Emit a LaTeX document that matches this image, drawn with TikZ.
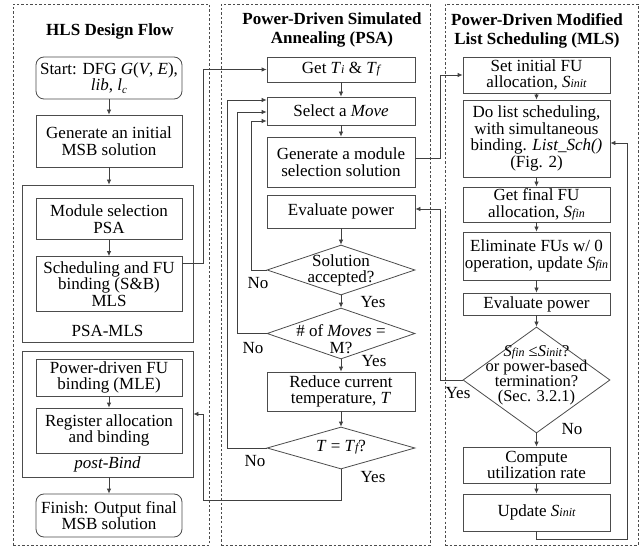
\documentclass[tikz,border=0pt]{standalone}
\usepackage{fontspec}
\setmainfont{Liberation Serif}
\usetikzlibrary{arrows.meta,shapes.geometric}
\newcommand{\subi}[2]{\textit{#1}{\fontsize{12}{12}\selectfont\itshape #2}}
\begin{document}
\begin{tikzpicture}[x=1pt,y=-1pt,
  every node/.style={font=\fontsize{17}{16.8}\selectfont},
  box/.style={draw=black!70, line width=0.8pt, align=center, inner sep=0pt},
  rbox/.style={box, rounded corners=8pt},
  grp/.style={draw=black!70, line width=0.8pt, inner sep=0pt},
  panel/.style={draw=black!70, line width=0.6pt, dash pattern=on 2.5pt off 2pt, inner sep=0pt},
  dia/.style={draw=black!70, line width=0.8pt, shape=diamond, inner sep=0pt},
  dtext/.style={align=center, inner sep=0pt},
  conn/.style={draw=black!75, line width=0.8pt},
  arr/.style={conn, -{Latex[length=5pt,width=4.5pt]}},
  lbl/.style={inner sep=0pt},
  ttl/.style={font=\fontsize{17}{19}\selectfont\bfseries, align=center, inner sep=0pt}
]
\useasboundingbox[fill=white] (0,0) rectangle (643,548);

% panels
\node[panel, minimum width=196pt, minimum height=541pt] (p1) at (111,274.5) {};
\node[panel, minimum width=209pt, minimum height=541pt] (p2) at (325.5,274.5) {};
\node[panel, minimum width=193pt, minimum height=541pt] (p3) at (541.5,274.5) {};

\node[ttl] (t1) at (110,31) {HLS Design Flow};
\node[ttl] (t2) at (332,30) {Power-Driven Simulated\\Annealing (PSA)};
\node[ttl] (t3) at (537,31) {Power-Driven Modified\\List Scheduling (MLS)};

% ---------- panel 1
\node[rbox, minimum width=146pt, minimum height=42pt] (start) at (109,78)
  {Start: DFG \textit{G}(\textit{V}, \textit{E}),\\\textit{lib}, \textit{l}\raisebox{-2.5pt}{\fontsize{11}{11}\selectfont\itshape c}};
\node[box, minimum width=146pt, minimum height=52pt] (gen) at (109,141) {Generate an initial\\MSB solution};
\node[grp, minimum width=171pt, minimum height=157pt] (psamls) at (107.5,263.5) {};
\node[box, minimum width=146pt, minimum height=41pt] (modsel) at (109,219) {Module selection\\PSA};
\node[box, minimum width=146pt, minimum height=55pt] (sched) at (109,284) {Scheduling and FU\\binding (S\&B)\\MLS};
\node[lbl] (psamlsl) at (107.5,331) {PSA-MLS};
\node[grp, minimum width=171pt, minimum height=126pt] (postbind) at (107.5,414) {};
\node[box, minimum width=146pt, minimum height=37pt] (pdfu) at (109,377.5) {Power-driven FU\\binding (MLE)};
\node[box, minimum width=146pt, minimum height=45pt] (reg) at (109,430.5) {Register allocation\\and binding};
\node[lbl] (postbindl) at (107.5,464) {\itshape post-Bind};
\node[rbox, minimum width=146pt, minimum height=43pt] (finish) at (109,515.5) {Finish: Output final\\MSB solution};

\draw[arr] (start) -- (gen);
\draw[arr] (gen.south) -- (gen.south |- psamls.north);
\draw[arr] (modsel) -- (sched);
\draw[arr] (pdfu) -- (reg);
\draw[arr] (finish.north |- postbind.south) -- (finish.north);

% ---------- panel 2
\node[box, minimum width=148pt, minimum height=25pt] (getT) at (341,69.5) {Get \subi{T}{i} \& \subi{T}{f}};
\node[box, minimum width=148pt, minimum height=28pt] (select) at (341,111) {Select a \textit{Move}};
\node[box, minimum width=148pt, minimum height=50pt] (gensol) at (341,162) {Generate a module\\selection solution};
\node[box, minimum width=148pt, minimum height=33pt] (evalP) at (341,211.5) {Evaluate power};
\node[dia, minimum width=148pt, minimum height=50pt] (acc) at (341,270) {};
\node[dtext] (acct) at (341,270.5) {Solution\\accepted?};
\node[dia, minimum width=148pt, minimum height=51pt] (moves) at (341,333.5) {};
\node[dtext] (movest) at (341,339) {\# of \textit{Moves} =\\M?};
\node[box, minimum width=148pt, minimum height=39pt] (reduce) at (341,391.5) {Reduce current\\temperature, \textit{T}};
\node[dia, minimum width=148pt, minimum height=42pt] (tf) at (341,448) {};
\node[dtext] (tft) at (341,447) {\textit{T} = \subi{T}{f}?};

\node[lbl] (accno) at (258,283) {No};
\node[lbl] (accyes) at (373,302) {Yes};
\node[lbl] (movesno) at (253,348) {No};
\node[lbl] (movesyes) at (374,361) {Yes};
\node[lbl] (tfno) at (255,461) {No};
\node[lbl] (tfyes) at (373,477) {Yes};

\draw[arr] (getT) -- (select);
\draw[arr] (select) -- (gensol);
\draw[arr] (evalP) -- (acc);
\draw[arr] (acc) -- (moves);
\draw[arr] (moves) -- (reduce);
\draw[arr] (reduce) -- (tf);
\draw[arr] (acc.west) -- (251,270) |- ([yshift=-10pt]select.west);
\draw[arr] (moves.west) -- (237,333.5) |- ([yshift=-1pt]select.west);
\draw[arr] (tf.west) -- (227,448) |- ([yshift=11pt]select.west);
\draw[arr] (tf.south) |- (203,500) -- (203,414) -- (postbind.east);
\draw[arr] ([yshift=21pt]sched.east) -- (203,263) |- (getT.west);

% ---------- panel 3
\node[box, minimum width=147pt, minimum height=36pt] (setinit) at (536.5,75) {Set initial FU\\allocation, \subi{S}{init}};
\node[box, minimum width=147pt, minimum height=77pt] (dolist) at (536.5,138.5) {Do list scheduling,\\with simultaneous\\binding. \textit{List\_Sch()}\\(Fig. 2)};
\node[box, minimum width=147pt, minimum height=35pt] (getfin) at (536.5,204.5) {Get final FU\\allocation, \subi{S}{fin}};
\node[box, minimum width=147pt, minimum height=48pt] (elim) at (536.5,256) {Eliminate FUs w/ 0\\operation, update \subi{S}{fin}};
\node[box, minimum width=147pt, minimum height=22pt] (evalP2) at (536.5,304) {Evaluate power};
\node[dia, minimum width=147pt, minimum height=106pt] (dec) at (536.5,380) {};
\node[dtext, font=\fontsize{16.5}{15}\selectfont] (dect) at (536.5,375)
  {\subi{S}{fin} ≤\subi{S}{init}?\\or power-based\\termination?\\(Sec. 3.2.1)};
\node[box, minimum width=147pt, minimum height=36pt] (compute) at (536.5,465) {Compute\\utilization rate};
\node[box, minimum width=147pt, minimum height=37pt] (update) at (536.5,512.5) {Update \subi{S}{init}};

\node[lbl] (decyes) at (458,393) {Yes};
\node[lbl] (decno) at (572,429) {No};

\draw[arr] (setinit) -- (dolist);
\draw[arr] (dolist) -- (getfin);
\draw[arr] (getfin) -- (elim);
\draw[arr] (elim) -- (evalP2);
\draw[arr] (evalP2) -- (dec);
\draw[arr] (dec) -- (compute);
\draw[arr] (compute) -- (update);
\draw[arr] (update.south) -- (536.5,539) -| (627,143) -- ([yshift=-4.5pt]dolist.east);
\draw[arr] (dec.west) -- (440,380) |- ([yshift=2.5pt]evalP.east);
\draw[arr] ([yshift=4pt]gensol.east) -- (440,158) |- (setinit.west);
\end{tikzpicture}
\end{document}
